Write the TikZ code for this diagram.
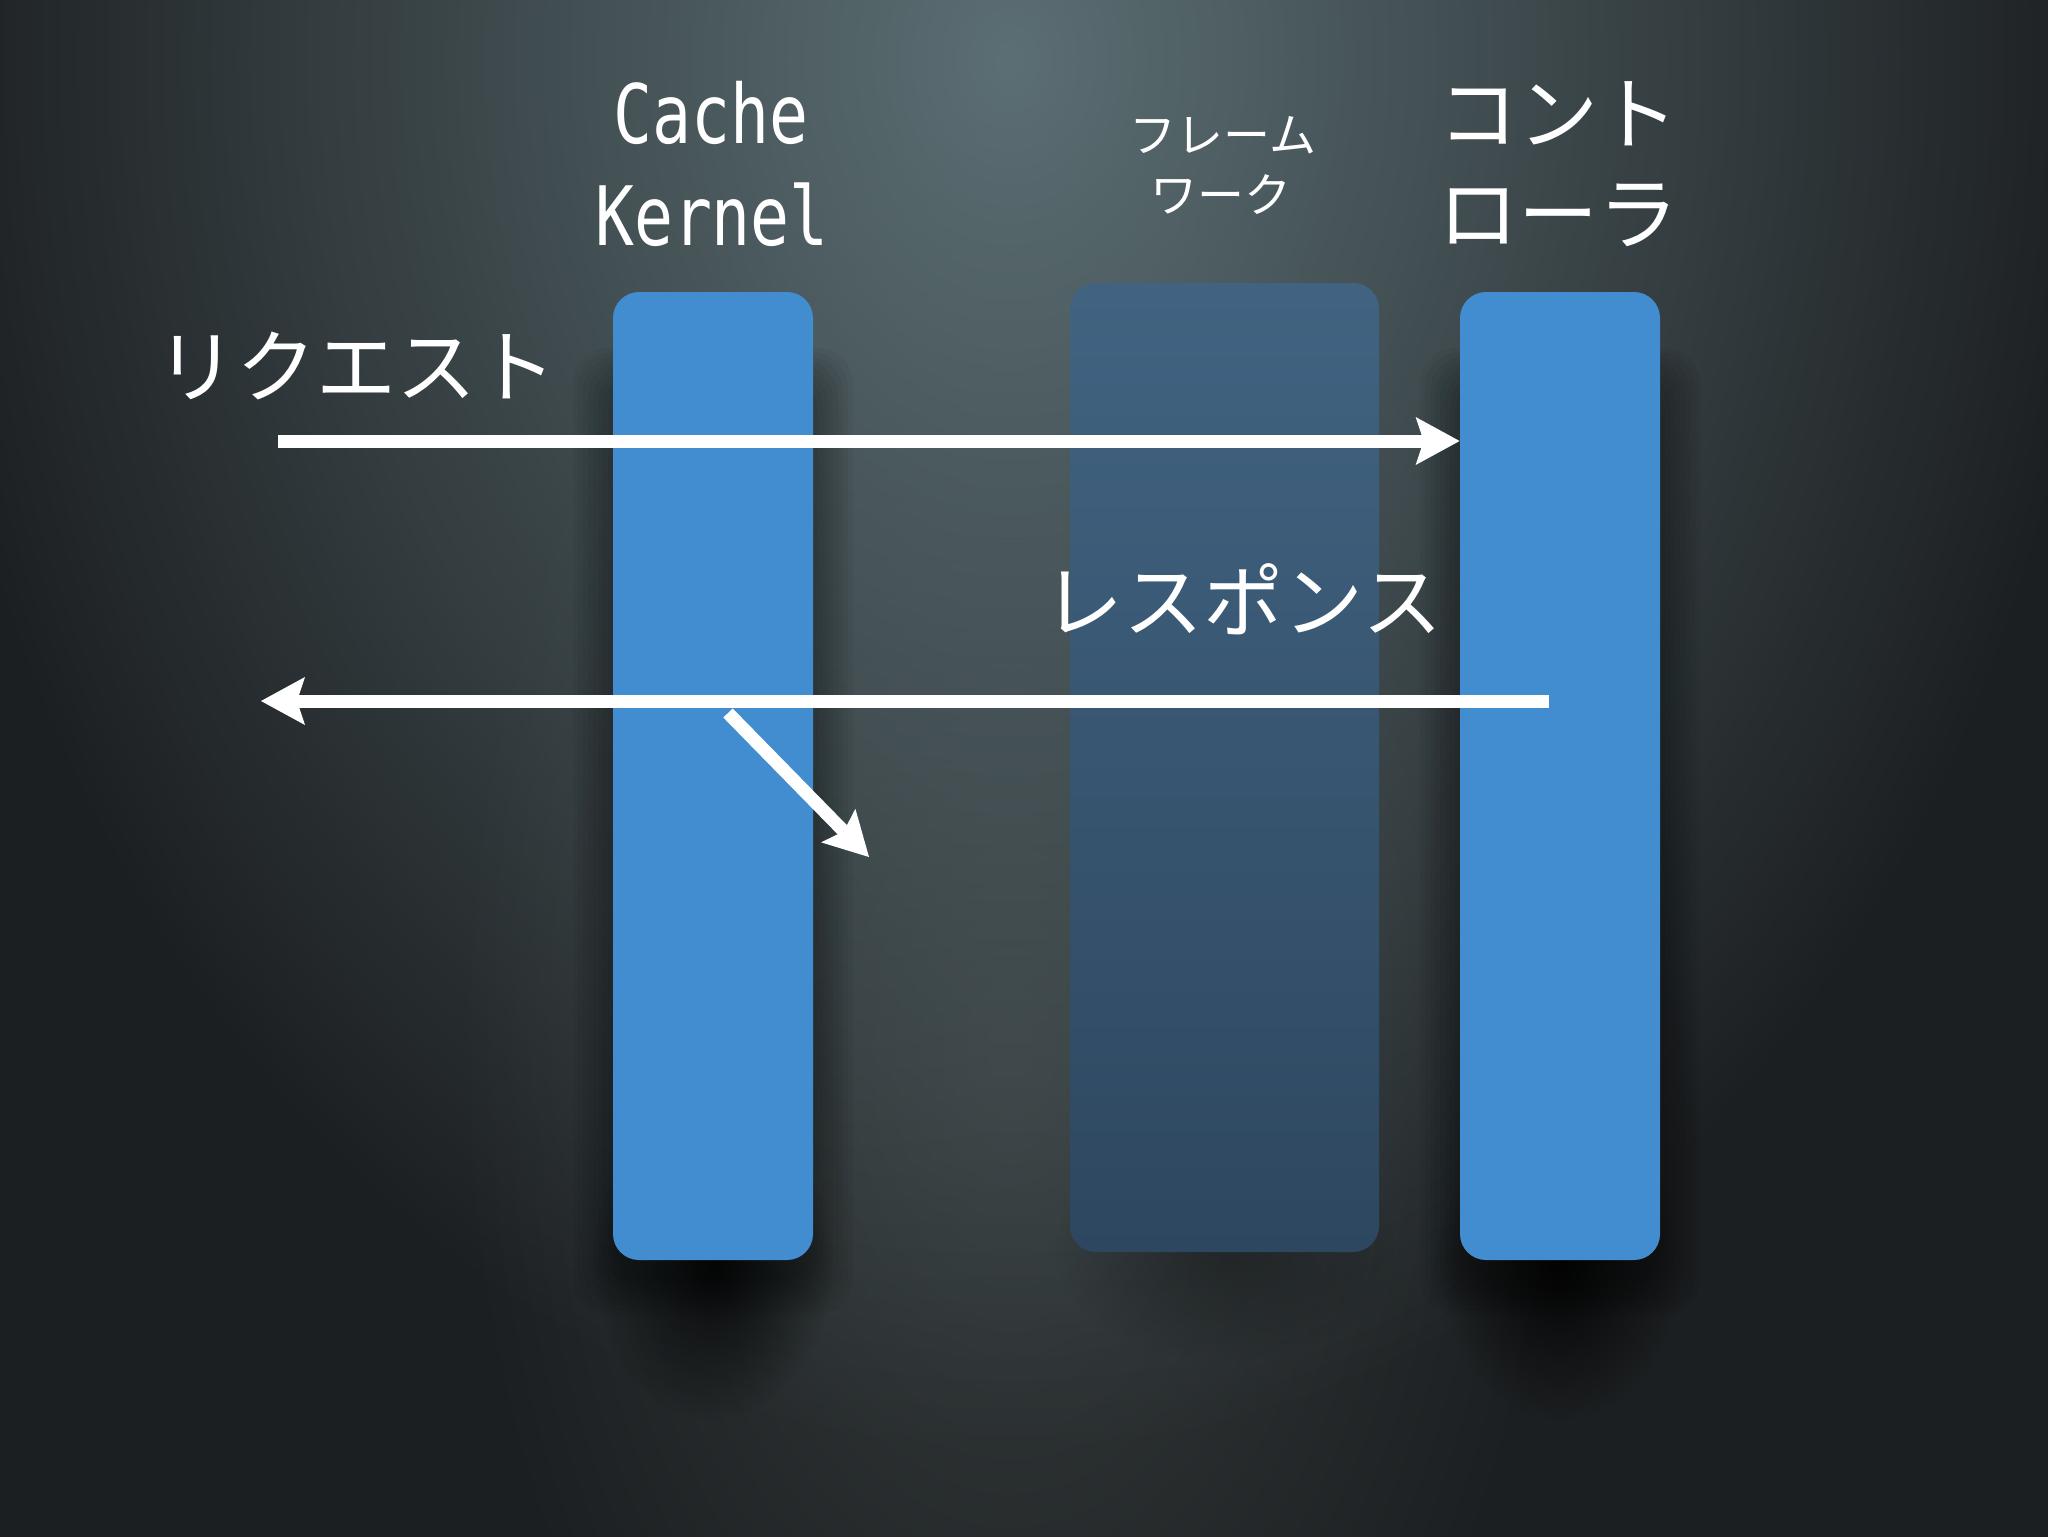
\documentclass[tikz,border=0pt]{standalone}
\usepackage{fontspec}
\newfontfamily\jpfont{Noto Sans CJK JP}
\newfontfamily\monofont[FakeStretch=0.79]{DejaVu Sans Mono}
\usetikzlibrary{arrows.meta,fadings,calc}
\definecolor{bgdark}{HTML}{1C1F21}
\definecolor{glow}{HTML}{5C6F74}
\definecolor{band}{HTML}{353B3C}
\definecolor{barblue}{HTML}{428CD0}
\definecolor{fwtop}{HTML}{416381}
\definecolor{fwbot}{HTML}{2E4760}
\tikzfading[name=radfade, inner color=transparent!0, outer color=transparent!100]
\begin{document}
\begin{tikzpicture}[x=0.5pt,y=-0.5pt,
  bluebar/.style={rectangle, rounded corners=13pt, fill=barblue, minimum width=100pt, minimum height=484pt, inner sep=0pt},
  fwbar/.style={rectangle, rounded corners=13pt, top color=fwtop, bottom color=fwbot, minimum width=154.5pt, minimum height=484.5pt, inner sep=0pt},
  arr/.style={draw=white, line width=6.5pt, -{Stealth[length=22pt,width=24pt,inset=4pt,line width=0pt]}},
  bigjp/.style={text=white, font=\jpfont\fontsize{40}{48}\selectfont, inner sep=0pt, anchor=base},
  smalljp/.style={text=white, font=\jpfont\fontsize{23.5}{28}\selectfont, inner sep=0pt, anchor=base},
  monolbl/.style={text=white, font=\monofont\fontsize{41}{50}\selectfont, inner sep=0pt, anchor=base},
  softshadow/.style={fill=black, opacity=0.04, rounded corners=18pt},
]
\useasboundingbox (0,0) rectangle (2048,1536);
\fill[bgdark] (-20,-20) rectangle (2068,1556);
\fill[band, path fading=radfade] (1010,1050) ellipse [x radius=560, y radius=950];
\fill[glow, path fading=radfade] (1010,60) ellipse [x radius=1100, y radius=1400];

% shadows
\foreach \cx in {713,1560} {
  \foreach \k in {1,...,8} {
    \fill[softshadow] (\cx-100-5*\k, 380-4*\k) rectangle (\cx+100+5*\k, 1275+5*\k);
  }
  \fill[black, opacity=0.85, path fading=radfade] (\cx,1265) ellipse [x radius=120, y radius=155];
}
\fill[black, opacity=0.3, path fading=radfade] (1224,1250) ellipse [x radius=170, y radius=110];

% bars
\node[bluebar] (ck) at (713,776) {};
\node[fwbar] (fw) at (1224.5,767.5) {};
\node[bluebar] (ctrl) at (1560,776) {};

% labels
\node[monolbl] (ckl1) at (711,143) {Cache};
\node[monolbl] (ckl2) at (712,245) {Kernel};
\node[smalljp] (fwl1) at (1223,152) {フレーム};
\node[smalljp] (fwl2) at (1221,212) {ワーク};
\node[bigjp] (ctl1) at (1558,143) {コント};
\node[bigjp] (ctl2) at (1558,243) {ローラ};
\node[bigjp] (req) at (356,396) {リクエスト};
\node[bigjp] (res) at (1243,631) {レスポンス};

% arrows
\coordinate (reqS) at (278,441);
\draw[arr] (reqS) -- (reqS -| ctrl.west);
\coordinate (resS) at (1549,701);
\coordinate (resE) at (261,701);
\draw[arr] (resS) -- (resE);
\coordinate (dgS) at (728,713);
\coordinate (dgE) at (869,857);
\draw[arr] (dgS) -- (dgE);
\end{tikzpicture}
\end{document}
